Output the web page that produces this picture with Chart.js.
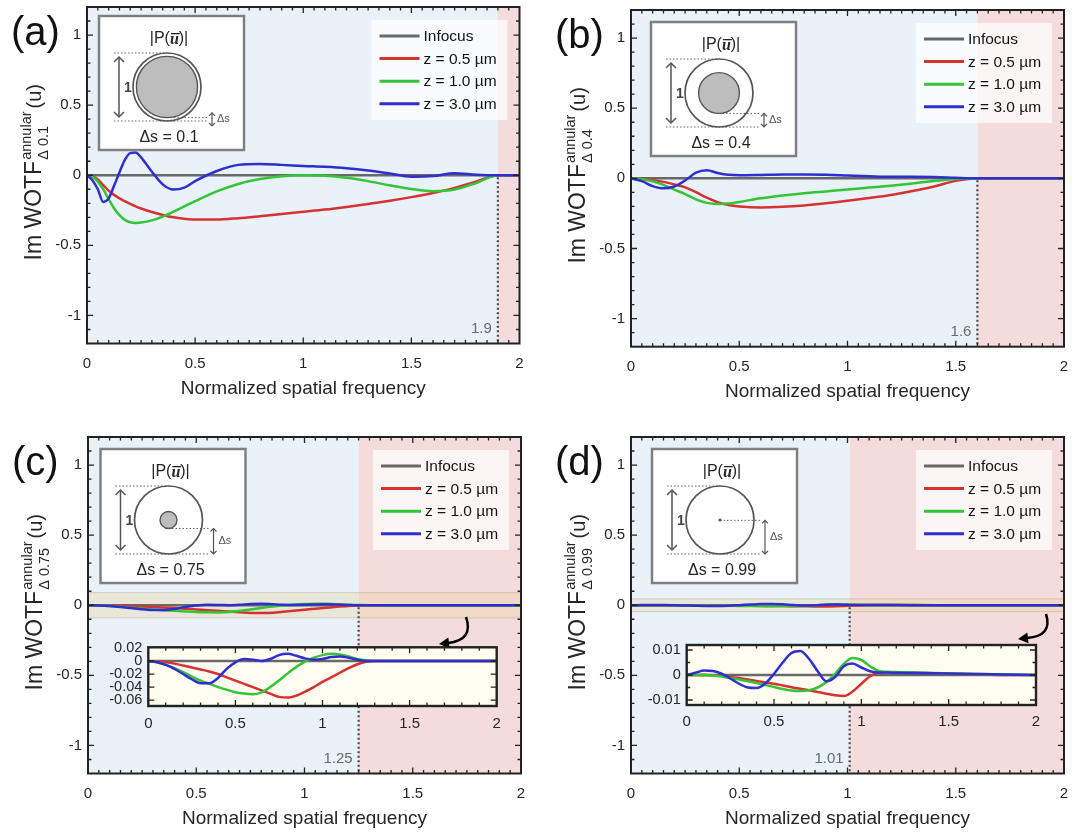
<!DOCTYPE html>
<html>
<head>
<meta charset="utf-8">
<script src="https://cdn.jsdelivr.net/npm/chart.js@4.4.1/dist/chart.umd.min.js"></script>
<style>
  html, body { margin: 0; padding: 0; background: #fff; }
  #wrap { position: relative; width: 1085px; height: 832px; overflow: hidden; }
  canvas { position: absolute; }
</style>
</head>
<body>
<div id="wrap">
  <canvas id="ca" width="540" height="416" style="left:0;top:0"></canvas>
  <canvas id="cb" width="545" height="416" style="left:540px;top:0"></canvas>
  <canvas id="cc" width="540" height="416" style="left:0;top:416px"></canvas>
  <canvas id="cd" width="545" height="416" style="left:540px;top:416px"></canvas>
  <canvas id="ic" width="420" height="100" style="left:95px;top:640px"></canvas>
  <canvas id="id" width="420" height="100" style="left:635px;top:640px"></canvas>
</div>
<script>
const FONT = '"Liberation Sans", Arial, sans-serif';
const TXT = '#262626';

const seriesLabels = ['Infocus', 'z = 0.5 µm', 'z = 1.0 µm', 'z = 3.0 µm'];
const seriesColors = ['#686868', '#d63232', '#35c435', '#2f2fcf'];
const infocusX = [0, 2];
const infocusY = [0, 0];

// (a) delta s = 0.1
const xA = [0, 0.025, 0.05, 0.075, 0.1, 0.125, 0.15, 0.175, 0.2, 0.225, 0.25, 0.3, 0.35, 0.4, 0.45, 0.5, 0.6, 0.7, 0.8, 0.9, 1.0, 1.1, 1.2, 1.3, 1.4, 1.5, 1.6, 1.7, 1.8, 1.9, 2.0];
const redA = [0, -0.006, -0.03, -0.07, -0.11, -0.14, -0.165, -0.185, -0.205, -0.222, -0.237, -0.262, -0.283, -0.3, -0.31, -0.316, -0.316, -0.306, -0.292, -0.277, -0.261, -0.245, -0.226, -0.205, -0.182, -0.156, -0.126, -0.09, -0.045, 0, 0];
const greenA = [0, -0.012, -0.045, -0.1, -0.17, -0.235, -0.285, -0.318, -0.335, -0.34, -0.337, -0.322, -0.295, -0.26, -0.222, -0.185, -0.115, -0.062, -0.027, -0.007, 0, -0.004, -0.018, -0.042, -0.072, -0.098, -0.114, -0.102, -0.055, 0, 0];
const blueA = [0, -0.035, -0.1, -0.19, -0.165, -0.075, 0.02, 0.11, 0.158, 0.162, 0.128, 0.025, -0.065, -0.102, -0.088, -0.042, 0.03, 0.074, 0.08, 0.074, 0.066, 0.06, 0.05, 0.034, 0.012, -0.01, -0.006, 0.014, 0.004, 0, 0];

// (b) delta s = 0.4
const xB = [0, 0.05, 0.1, 0.15, 0.2, 0.25, 0.3, 0.35, 0.4, 0.45, 0.5, 0.6, 0.7, 0.8, 0.9, 1.0, 1.1, 1.2, 1.3, 1.4, 1.5, 1.6, 1.7, 1.8, 1.9, 2.0];
const redB = [0, -0.003, -0.012, -0.025, -0.043, -0.064, -0.098, -0.138, -0.17, -0.19, -0.2, -0.207, -0.203, -0.193, -0.178, -0.16, -0.14, -0.118, -0.09, -0.058, -0.018, 0, 0, 0, 0, 0];
const greenB = [0, -0.006, -0.021, -0.047, -0.08, -0.112, -0.15, -0.175, -0.183, -0.18, -0.168, -0.142, -0.122, -0.106, -0.093, -0.08, -0.066, -0.052, -0.036, -0.019, -0.004, 0, 0, 0, 0, 0];
const blueB = [0, -0.02, -0.055, -0.071, -0.058, -0.015, 0.04, 0.058, 0.038, 0.025, 0.022, 0.024, 0.027, 0.027, 0.025, 0.02, 0.015, 0.011, 0.011, 0.01, 0.004, 0, 0, 0, 0, 0];

// (c) delta s = 0.75
const xC = [0, 0.05, 0.1, 0.15, 0.2, 0.25, 0.3, 0.35, 0.4, 0.45, 0.5, 0.55, 0.6, 0.65, 0.7, 0.75, 0.8, 0.85, 0.9, 0.95, 1.0, 1.05, 1.1, 1.15, 1.2, 1.25, 1.3, 1.5, 1.75, 2.0];
const redC = [0, -0.001, -0.002, -0.004, -0.007, -0.01, -0.013, -0.016, -0.02, -0.025, -0.03, -0.035, -0.04, -0.045, -0.05, -0.055, -0.056, -0.053, -0.047, -0.04, -0.032, -0.025, -0.018, -0.011, -0.005, -0.001, 0, 0, 0, 0];
const greenC = [0, -0.002, -0.006, -0.011, -0.017, -0.024, -0.03, -0.035, -0.04, -0.044, -0.048, -0.05, -0.051, -0.048, -0.04, -0.03, -0.019, -0.009, -0.001, 0.005, 0.009, 0.011, 0.01, 0.007, 0.003, 0.001, 0, 0, 0, 0];
const blueC = [0, -0.002, -0.006, -0.012, -0.02, -0.028, -0.034, -0.034, -0.026, -0.012, -0.002, 0.003, 0.002, 0, 0.003, 0.009, 0.011, 0.008, 0.004, 0.002, 0.003, 0.006, 0.007, 0.005, 0.002, 0, 0, 0, 0, 0];

// (d) delta s = 0.99
const xD = [0, 0.05, 0.1, 0.15, 0.2, 0.25, 0.3, 0.35, 0.4, 0.45, 0.5, 0.55, 0.6, 0.65, 0.7, 0.75, 0.8, 0.85, 0.9, 0.95, 1.0, 1.05, 1.1, 1.15, 1.2, 1.3, 1.5, 1.7, 1.9, 2.0];
const redD = [0, 0, 0, -0.0001, -0.0003, -0.0008, -0.0012, -0.0018, -0.0024, -0.003, -0.0035, -0.0042, -0.0049, -0.0055, -0.0061, -0.0068, -0.0075, -0.0081, -0.0084, -0.0066, -0.0035, -0.0005, 0.0009, 0.0011, 0.0011, 0.0009, 0.0005, 0.0002, 0, 0];
const greenD = [0, 0, 0, -0.0002, -0.0006, -0.0012, -0.0018, -0.0025, -0.0032, -0.004, -0.0048, -0.0056, -0.0062, -0.0064, -0.0061, -0.005, -0.0028, 0.0005, 0.0045, 0.0068, 0.006, 0.0035, 0.0016, 0.0013, 0.0012, 0.001, 0.0006, 0.0003, 0.0001, 0];
const blueD = [0, 0.0009, 0.0018, 0.0016, 0.0005, -0.0014, -0.0035, -0.005, -0.0052, -0.0034, 0.0005, 0.005, 0.0088, 0.0096, 0.0065, 0.0015, -0.0025, -0.0008, 0.0035, 0.0046, 0.003, 0.0015, 0.001, 0.001, 0.0009, 0.0008, 0.0006, 0.0004, 0.0001, 0];

const cutoffs = [1.9, 1.6, 1.25, 1.01];
const deltaS = [0.1, 0.4, 0.75, 0.99];

const panelSetup = [
  { canvas: 'ca', letter: '(a)', xs: xA, ys: [redA, greenA, blueA], W: 540, H: 416, L: 87, R: 519.5, T: 7, B: 343.5, boxDx: 12, boxDy: 9 },
  { canvas: 'cb', letter: '(b)', xs: xB, ys: [redB, greenB, blueB], W: 545, H: 416, L: 91, R: 524, T: 10, B: 346.7, boxDx: 20, boxDy: 12 },
  { canvas: 'cc', letter: '(c)', xs: xC, ys: [redC, greenC, blueC], W: 540, H: 416, L: 88, R: 521, T: 21, B: 357.5, boxDx: 12.5, boxDy: 12,
    band: 0.09, arrow: [466, 201, 474, 224, 448, 227, 439, 228] },
  { canvas: 'cd', letter: '(d)', xs: xD, ys: [redD, greenD, blueD], W: 545, H: 416, L: 91, R: 524, T: 21, B: 357.5, boxDx: 21, boxDy: 12,
    band: 0.045, arrow: [506, 198, 513, 220, 487, 222, 478, 223] }
];

const insetSetup = [
  { canvas: 'ic', xs: xC, ys: [redC, greenC, blueC], W: 420, H: 100, L: 53.3, R: 401.7, T: 7.3, B: 66, yMin: -0.069, yMax: 0.021, yStep: 0.02, yMinor: 0.02, xPad: 8.9 },
  { canvas: 'id', xs: xD, ys: [redD, greenD, blueD], W: 420, H: 100, L: 51.7, R: 401, T: 5, B: 65, yMin: -0.012, yMax: 0.012, yStep: 0.01, yMinor: 0.005, xPad: 8.3 }
];

function pts(xs, ys) { return xs.map((x, i) => ({ x: x, y: ys[i] })); }

function buildDatasets(xs, ys) {
  const sets = [{ label: seriesLabels[0], data: pts(infocusX, infocusY), borderColor: seriesColors[0], order: 3 }];
  ys.forEach((arr, i) => {
    sets.push({ label: seriesLabels[i + 1], data: pts(xs, arr), borderColor: seriesColors[i + 1], order: 2 - i });
  });
  return sets;
}

function fmtTick(v) { return String(parseFloat(Number(v).toFixed(4))); }

function seg(ctx, x1, y1, x2, y2) { ctx.beginPath(); ctx.moveTo(x1, y1); ctx.lineTo(x2, y2); ctx.stroke(); }

function frameTicks(chart, xMinor, xMajor, yMinor, yMajor, lw) {
  const { ctx, chartArea: a, scales: { x, y } } = chart;
  ctx.save();
  ctx.strokeStyle = '#222';
  ctx.lineWidth = 1.3;
  ctx.beginPath();
  const n = Math.round((x.max - x.min) / xMinor);
  for (let i = 0; i <= n; i++) {
    const v = x.min + i * xMinor;
    const px = x.getPixelForValue(v);
    if (px < a.left + 1 || px > a.right - 1) continue;
    const r = v / xMajor;
    const len = Math.abs(r - Math.round(r)) < 1e-6 ? 6 : 3.5;
    ctx.moveTo(px, a.bottom); ctx.lineTo(px, a.bottom - len);
    ctx.moveTo(px, a.top); ctx.lineTo(px, a.top + len);
  }
  const k0 = Math.ceil(y.min / yMinor - 1e-6), k1 = Math.floor(y.max / yMinor + 1e-6);
  for (let k = k0; k <= k1; k++) {
    const v = k * yMinor;
    const py = y.getPixelForValue(v);
    if (py < a.top + 1 || py > a.bottom - 1) continue;
    const r = v / yMajor;
    const len = Math.abs(r - Math.round(r)) < 1e-6 ? 6 : 3.5;
    ctx.moveTo(a.left, py); ctx.lineTo(a.left + len, py);
    ctx.moveTo(a.right, py); ctx.lineTo(a.right - len, py);
  }
  ctx.stroke();
  ctx.lineWidth = lw;
  ctx.strokeRect(a.left, a.top, a.right - a.left, a.bottom - a.top);
  ctx.restore();
}

function doubleArrow(ctx, x, y1, y2, hs) {
  seg(ctx, x, y1, x, y2);
  ctx.beginPath();
  ctx.moveTo(x - hs, y1 + hs); ctx.lineTo(x, y1); ctx.lineTo(x + hs, y1 + hs);
  ctx.moveTo(x - hs, y2 - hs); ctx.lineTo(x, y2); ctx.lineTo(x + hs, y2 - hs);
  ctx.stroke();
}

function drawPupilLabel(ctx, cx, cy) {
  const f1 = '16px ' + FONT, f2 = 'bold italic 16px "Liberation Serif", "DejaVu Serif", serif';
  ctx.font = f1;
  const wa = ctx.measureText('|P(').width, wb = ctx.measureText(')|').width;
  ctx.font = f2;
  const wu = ctx.measureText('u').width;
  let x = cx - (wa + wu + wb) / 2;
  ctx.textAlign = 'left'; ctx.textBaseline = 'middle'; ctx.fillStyle = TXT;
  ctx.font = f1; ctx.fillText('|P(', x, cy); x += wa;
  ctx.font = f2; ctx.fillText('u', x, cy + 1);
  ctx.fillRect(x + 1, cy - 6, wu, 1.3); x += wu;
  ctx.font = f1; ctx.fillText(')|', x, cy);
}

function drawSchematic(ctx, bx, by, ds) {
  const w = 145, h = 134;
  ctx.save();
  ctx.fillStyle = '#fff';
  ctx.fillRect(bx, by, w, h);
  ctx.strokeStyle = '#808080'; ctx.lineWidth = 2.5;
  ctx.strokeRect(bx, by, w, h);
  const cx = bx + 68, cy = by + 71, r = 34, ri = r * (1 - ds);
  ctx.strokeStyle = '#666'; ctx.lineWidth = 1; ctx.setLineDash([1.5, 2]);
  seg(ctx, bx + 15, cy - r, cx, cy - r);
  seg(ctx, bx + 15, cy + r, cx + 40, cy + r);
  seg(ctx, cx, cy + ri, cx + 40, cy + ri);
  ctx.setLineDash([]);
  ctx.strokeStyle = '#555'; ctx.lineWidth = 1.7;
  ctx.beginPath(); ctx.arc(cx, cy, r, 0, Math.PI * 2); ctx.stroke();
  if (ri > 2) {
    ctx.fillStyle = '#bdbdbd';
    ctx.beginPath(); ctx.arc(cx, cy, ri, 0, Math.PI * 2); ctx.fill();
    ctx.lineWidth = 1.4; ctx.stroke();
  } else {
    ctx.fillStyle = '#555';
    ctx.beginPath(); ctx.arc(cx, cy, 1.6, 0, Math.PI * 2); ctx.fill();
  }
  ctx.strokeStyle = '#555'; ctx.lineWidth = 1.5;
  doubleArrow(ctx, bx + 20, cy - r + 4, cy + r - 4, 5);
  ctx.fillStyle = '#444';
  ctx.font = 'bold 14px ' + FONT; ctx.textAlign = 'left'; ctx.textBaseline = 'middle';
  ctx.fillText('1', bx + 25, cy + 1);
  const a1 = cy + ri, a2 = cy + r, mid = (a1 + a2) / 2, half = Math.max((a2 - a1) / 2, 6.5);
  ctx.lineWidth = 1.2;
  doubleArrow(ctx, cx + 45, mid - half, mid + half, 3);
  ctx.font = '11px ' + FONT; ctx.fillStyle = '#555';
  ctx.fillText('Δs', cx + 50, mid);
  drawPupilLabel(ctx, bx + 70, by + 23);
  ctx.font = '16px ' + FONT; ctx.textAlign = 'center'; ctx.fillStyle = TXT;
  ctx.fillText('Δs = ' + ds, bx + 70, by + 122);
  ctx.restore();
}

function drawLegend(ctx, a) {
  const w = 136, h = 100, x = a.right - 12 - w, y = a.top + 13;
  ctx.save();
  ctx.fillStyle = 'rgba(255,255,255,0.72)';
  ctx.fillRect(x, y, w, h);
  ctx.font = '15.5px ' + FONT; ctx.textAlign = 'left'; ctx.textBaseline = 'middle';
  seriesLabels.forEach((lab, i) => {
    const yy = y + 16 + i * 22.6;
    ctx.strokeStyle = seriesColors[i]; ctx.lineWidth = 3;
    seg(ctx, x + 8, yy, x + 48, yy);
    ctx.fillStyle = '#111';
    ctx.fillText(lab, x + 52, yy + 1);
  });
  ctx.restore();
}

function drawYTitle(ctx, x, y, sub) {
  const fMain = '23px ' + FONT, fScript = '14.5px ' + FONT, fU = '20px ' + FONT;
  ctx.save();
  ctx.translate(x, y); ctx.rotate(-Math.PI / 2);
  ctx.fillStyle = TXT; ctx.textAlign = 'left'; ctx.textBaseline = 'alphabetic';
  ctx.font = fMain; const w1 = ctx.measureText('Im WOTF').width;
  ctx.font = fScript; const ws = Math.max(ctx.measureText('annular').width, ctx.measureText(sub).width);
  ctx.font = fU; const w3 = ctx.measureText('(u)').width;
  let cx = -(w1 + 1 + ws + 3 + w3) / 2;
  ctx.font = fMain; ctx.fillText('Im WOTF', cx, 0); cx += w1 + 1;
  ctx.font = fScript; ctx.fillText('annular', cx, -10); ctx.fillText(sub, cx, 7); cx += ws + 3;
  ctx.font = fU; ctx.fillText('(u)', cx, 0);
  ctx.restore();
}

function drawCurvedArrow(ctx, p) {
  ctx.save();
  ctx.strokeStyle = '#000'; ctx.fillStyle = '#000'; ctx.lineWidth = 2.5;
  ctx.beginPath(); ctx.moveTo(p[0], p[1]); ctx.quadraticCurveTo(p[2], p[3], p[4], p[5]); ctx.stroke();
  const ang = Math.atan2(p[7] - p[5], p[6] - p[4]);
  const tx = p[6], ty = p[7], L = 10, Wd = 5.5;
  ctx.beginPath();
  ctx.moveTo(tx, ty);
  ctx.lineTo(tx - L * Math.cos(ang) + Wd * Math.sin(ang), ty - L * Math.sin(ang) - Wd * Math.cos(ang));
  ctx.lineTo(tx - L * Math.cos(ang) - Wd * Math.sin(ang), ty - L * Math.sin(ang) + Wd * Math.cos(ang));
  ctx.closePath(); ctx.fill();
  ctx.restore();
}

function mainDeco(p, idx) {
  return {
    id: 'deco',
    beforeDatasetsDraw(chart) {
      const { ctx, chartArea: a, scales: { x, y } } = chart;
      const cx = x.getPixelForValue(cutoffs[idx]);
      ctx.save();
      ctx.fillStyle = '#e9f1f9';
      ctx.fillRect(a.left, a.top, cx - a.left, a.bottom - a.top);
      ctx.fillStyle = '#f5dcdc';
      ctx.fillRect(cx, a.top, a.right - cx, a.bottom - a.top);
      if (p.band) {
        const y1 = y.getPixelForValue(p.band), y2 = y.getPixelForValue(-p.band);
        ctx.fillStyle = 'rgba(232, 212, 150, 0.32)';
        ctx.fillRect(a.left, y1, a.right - a.left, y2 - y1);
        ctx.strokeStyle = 'rgba(180, 165, 140, 0.45)'; ctx.lineWidth = 1;
        ctx.strokeRect(a.left, y1, a.right - a.left, y2 - y1);
      }
      ctx.restore();
    },
    afterDatasetsDraw(chart) {
      const { ctx, chartArea: a, scales: { x, y } } = chart;
      const cx = x.getPixelForValue(cutoffs[idx]);
      ctx.save();
      ctx.strokeStyle = '#4a4a4a'; ctx.lineWidth = 2.2; ctx.setLineDash([2, 2.5]);
      seg(ctx, cx, y.getPixelForValue(0) + 2, cx, a.bottom);
      ctx.setLineDash([]);
      ctx.fillStyle = '#6a6a6a'; ctx.font = '15px ' + FONT;
      ctx.textAlign = 'right'; ctx.textBaseline = 'middle';
      ctx.fillText(String(cutoffs[idx]), cx - 6, a.bottom - 15);
      ctx.restore();
      frameTicks(chart, 0.05, 0.5, 0.1, 0.5, 2);
      drawLegend(ctx, a);
      drawSchematic(ctx, a.left + p.boxDx, a.top + p.boxDy, deltaS[idx]);
      if (p.arrow) drawCurvedArrow(ctx, p.arrow);
    },
    afterDraw(chart) {
      const { ctx, chartArea: a } = chart;
      drawYTitle(ctx, a.left - 46, (a.top + a.bottom) / 2 - 3, 'Δ ' + deltaS[idx]);
      ctx.save();
      ctx.fillStyle = '#111'; ctx.font = '40px ' + FONT;
      ctx.textAlign = 'left'; ctx.textBaseline = 'middle';
      ctx.fillText(p.letter, a.left - 76, a.top + 27);
      ctx.restore();
    }
  };
}

function tickFont(size) { return { family: FONT, size: size }; }

panelSetup.forEach((p, idx) => {
  new Chart(document.getElementById(p.canvas), {
    type: 'line',
    data: { datasets: buildDatasets(p.xs, p.ys) },
    options: {
      responsive: false,
      animation: false,
      events: [],
      layout: { padding: { left: 0, top: p.T, right: p.W - p.R, bottom: p.H - p.B - 56.4 } },
      elements: { point: { radius: 0 }, line: { borderWidth: 2.5, cubicInterpolationMode: 'monotone' } },
      plugins: { legend: { display: false }, tooltip: { enabled: false } },
      scales: {
        x: {
          type: 'linear', min: 0, max: 2,
          grid: { display: false, drawTicks: false, tickLength: 0 },
          border: { display: false },
          ticks: { stepSize: 0.5, autoSkip: false, maxRotation: 0, padding: 11, color: TXT, font: tickFont(15), callback: fmtTick },
          title: { display: true, text: 'Normalized spatial frequency', color: TXT, font: tickFont(19), padding: 0 },
          afterFit: s => { s.height = 56.4; s.paddingLeft = 0; s.paddingRight = 0; }
        },
        y: {
          type: 'linear', min: -1.2, max: 1.2,
          grid: { display: false, drawTicks: false, tickLength: 0 },
          border: { display: false },
          ticks: { stepSize: 0.5, includeBounds: false, autoSkip: false, padding: 6, color: TXT, font: tickFont(15), callback: fmtTick },
          afterFit: s => { s.width = p.L; s.paddingTop = 0; s.paddingBottom = 0; }
        }
      }
    },
    plugins: [mainDeco(p, idx)]
  });
});

function insetDeco(q) {
  return {
    id: 'insetDeco',
    beforeDatasetsDraw(chart) {
      const { ctx, chartArea: a } = chart;
      ctx.save();
      ctx.fillStyle = '#fffdf1';
      ctx.fillRect(a.left, a.top, a.right - a.left, a.bottom - a.top);
      ctx.restore();
    },
    afterDatasetsDraw(chart) {
      frameTicks(chart, 0.1, 0.5, q.yMinor, q.yStep, 2.4);
    }
  };
}

insetSetup.forEach(q => {
  new Chart(document.getElementById(q.canvas), {
    type: 'line',
    data: { datasets: buildDatasets(q.xs, q.ys) },
    options: {
      responsive: false,
      animation: false,
      events: [],
      layout: { padding: { left: 0, top: q.T, right: q.W - q.R, bottom: 0 } },
      elements: { point: { radius: 0 }, line: { borderWidth: 2.5, cubicInterpolationMode: 'monotone' } },
      plugins: { legend: { display: false }, tooltip: { enabled: false } },
      scales: {
        x: {
          type: 'linear', min: 0, max: 2,
          grid: { display: false, drawTicks: false, tickLength: 0 },
          border: { display: false },
          ticks: { stepSize: 0.5, autoSkip: false, maxRotation: 0, padding: q.xPad, color: TXT, font: tickFont(15), callback: fmtTick },
          afterFit: s => { s.height = q.H - q.B; s.paddingLeft = 0; s.paddingRight = 0; }
        },
        y: {
          type: 'linear', min: q.yMin, max: q.yMax,
          grid: { display: false, drawTicks: false, tickLength: 0 },
          border: { display: false },
          ticks: { stepSize: q.yStep, includeBounds: false, autoSkip: false, padding: 6, color: TXT, font: tickFont(14.5), callback: fmtTick },
          afterFit: s => { s.width = q.L; s.paddingTop = 0; s.paddingBottom = 0; }
        }
      }
    },
    plugins: [insetDeco(q)]
  });
});
</script>
</body>
</html>
